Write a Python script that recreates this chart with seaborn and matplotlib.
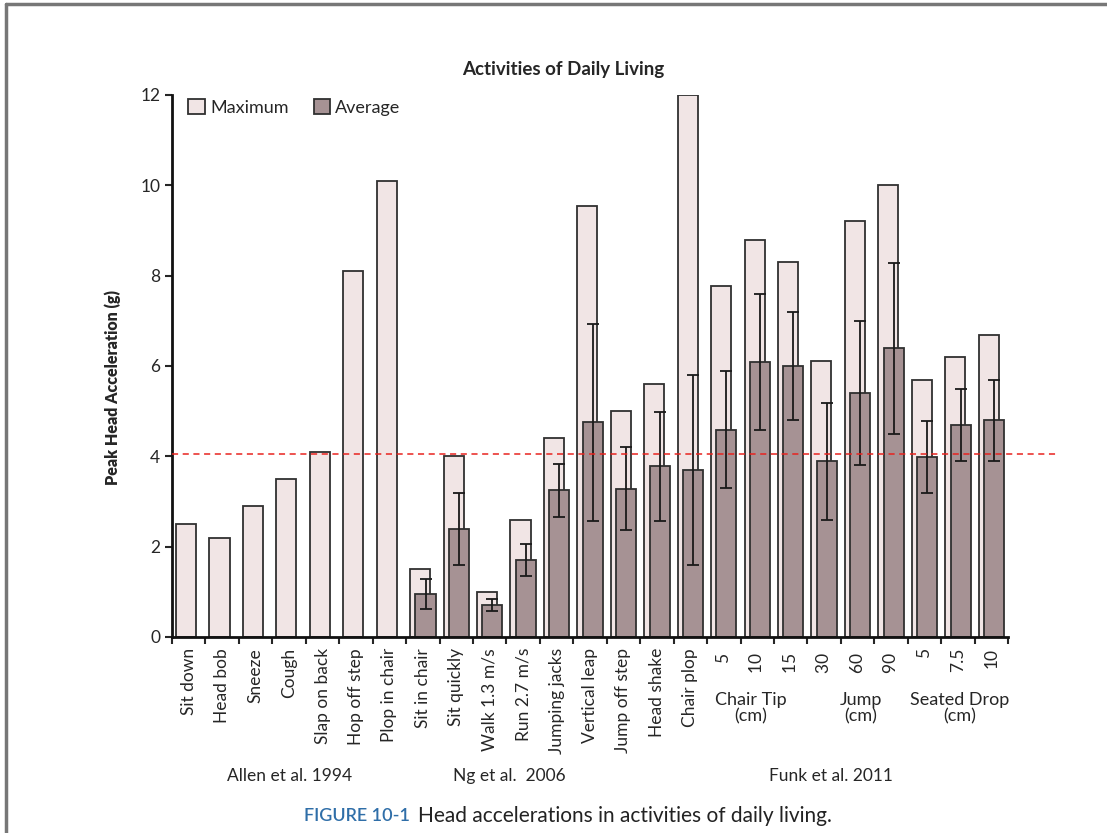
import numpy as np
import pandas as pd
import matplotlib
matplotlib.use("Agg")
import matplotlib.pyplot as plt
import matplotlib.transforms as mtransforms
from matplotlib.lines import Line2D
from matplotlib.patches import Patch
import seaborn as sns

activities = ["Sit down", "Head bob", "Sneeze", "Cough", "Slap on back", "Hop off step",
              "Plop in chair", "Sit in chair", "Sit quickly", "Walk 1.3 m/s", "Run 2.7 m/s",
              "Jumping jacks", "Vertical leap", "Jump off step", "Head shake", "Chair plop",
              "5 ", "10 ", "15 ", "30 ", "60 ", "90 ", "5", "7.5", "10"]
maximum = [2.5, 2.2, 2.9, 3.5, 4.1, 8.1, 10.1, 1.5, 4.0, 1.0, 2.6, 4.4, 9.55, 5.0, 5.6, 12.0,
           7.77, 8.8, 8.3, 6.1, 9.2, 10.0, 5.7, 6.2, 6.68]
average = [np.nan] * 7 + [0.95, 2.39, 0.71, 1.70, 3.25, 4.75, 3.28, 3.78, 3.69,
                          4.59, 6.09, 6.0, 3.89, 5.40, 6.39, 3.98, 4.70, 4.80]
spread = [np.nan] * 7 + [0.33, 0.8, 0.14, 0.36, 0.59, 2.18, 0.92, 1.21, 2.1,
                         1.3, 1.5, 1.19, 1.3, 1.6, 1.9, 0.8, 0.8, 0.9]
threshold = 4.05

sns.set_style("ticks")
plt.rcParams["font.family"] = ["Lato", "DejaVu Sans"]

df = pd.DataFrame({"activity": activities, "maximum": maximum,
                   "average": average, "spread": spread})

fig = plt.figure(figsize=(11.07, 8.33), dpi=100)
ax = fig.add_axes([0.1554, 0.2353, 0.7552, 0.6507])

max_color = "#f1e5e5"
avg_color = "#a69294"
edge = "#303030"

sns.barplot(data=df, x="activity", y="maximum", order=activities, color=max_color,
            edgecolor=edge, linewidth=1.3, width=0.6, saturation=1, ax=ax)
n_max = len(ax.patches)
for p in ax.patches:
    p.set_x(p.get_x() - 0.08)

avg_df = df.dropna(subset=["average"])
sns.barplot(data=avg_df, x="activity", y="average", order=activities, color=avg_color,
            edgecolor=edge, linewidth=1.3, width=0.6, saturation=1, ax=ax)
for p in ax.patches[n_max:]:
    p.set_x(p.get_x() + 0.08)

pos = np.arange(len(activities))
ax.errorbar(pos + 0.08, df["average"], yerr=df["spread"], fmt="none", ecolor="#1a1a1a",
            elinewidth=1.3, capsize=4, capthick=1.3, zorder=5)

# threshold line runs past the right end of the axis
trans = mtransforms.blended_transform_factory(ax.transAxes, ax.transData)
ax.plot([0, 1.06], [threshold, threshold], transform=trans, color="#e8231f",
        ls=(0, (4, 3)), lw=1.1, clip_on=False, zorder=6)

ax.set_xlim(-0.5, len(activities) - 0.5)
ax.set_ylim(0, 12)
ax.set_yticks(range(0, 13, 2))
ax.tick_params(axis="y", labelsize=12.5, length=5, width=1.5, direction="out")
ax.set_xticks(pos)
ax.set_xticklabels(activities, rotation=90, fontsize=12.5)
ax.tick_params(axis="x", which="major", length=0, pad=8)
ax.set_xticks(np.arange(-0.5, len(activities)), minor=True)
ax.tick_params(axis="x", which="minor", length=5, width=1.5, direction="out")
ax.set_xlabel("")
ax.set_ylabel("Peak Head Acceleration (g)", fontsize=11.5, fontweight="heavy")
ax.yaxis.set_label_coords(-0.061, 0.46)
for s in ["top", "right"]:
    ax.spines[s].set_visible(False)
for s in ["left", "bottom"]:
    ax.spines[s].set_linewidth(2)
    ax.spines[s].set_color("#111111")

fig.text(0.509, 0.916, "Activities of Daily Living", fontsize=13.5, fontweight="bold",
         ha="center", va="center")

handles = [Patch(facecolor=max_color, edgecolor=edge, linewidth=1.3),
           Patch(facecolor=avg_color, edgecolor=edge, linewidth=1.3)]
ax.legend(handles, ["Maximum", "Average"], loc="upper left", ncol=2, frameon=False,
          fontsize=13, handlelength=0.9, handleheight=0.9, handletextpad=0.3,
          columnspacing=1.4, bbox_to_anchor=(0.0, 1.022))

# subgroup and study labels under the ticks
tx = ax.get_xaxis_transform()
for xc, txt in [(16.8, "Chair Tip\n(cm)"), (20.1, "Jump\n(cm)"), (23.05, "Seated Drop\n(cm)")]:
    ax.text(xc, -0.131, txt, transform=tx, ha="center", va="center", fontsize=13,
            linespacing=1.05)
for xc, txt in [(3.0, "Allen et al. 1994"), (9.6, "Ng et al.  2006"), (19.2, "Funk et al. 2011")]:
    ax.text(xc, -0.256, txt, transform=tx, ha="center", va="center", fontsize=12.5)

fig.text(0.275, 0.021, "FIGURE 10-1", color="#2f6ea8", fontsize=13, fontweight="semibold",
         ha="left", va="center")
fig.text(0.378, 0.021, "Head accelerations in activities of daily living.", color="#222222",
         fontsize=15, ha="left", va="center")

# scanned page frame
fig.add_artist(Line2D([0.005, 1.0], [0.995, 0.995], transform=fig.transFigure,
                      color="#777777", lw=2.5))
fig.add_artist(Line2D([0.005, 0.005], [0.0, 0.995], transform=fig.transFigure,
                      color="#777777", lw=2.5))

fig.savefig("out.png", dpi=100)
